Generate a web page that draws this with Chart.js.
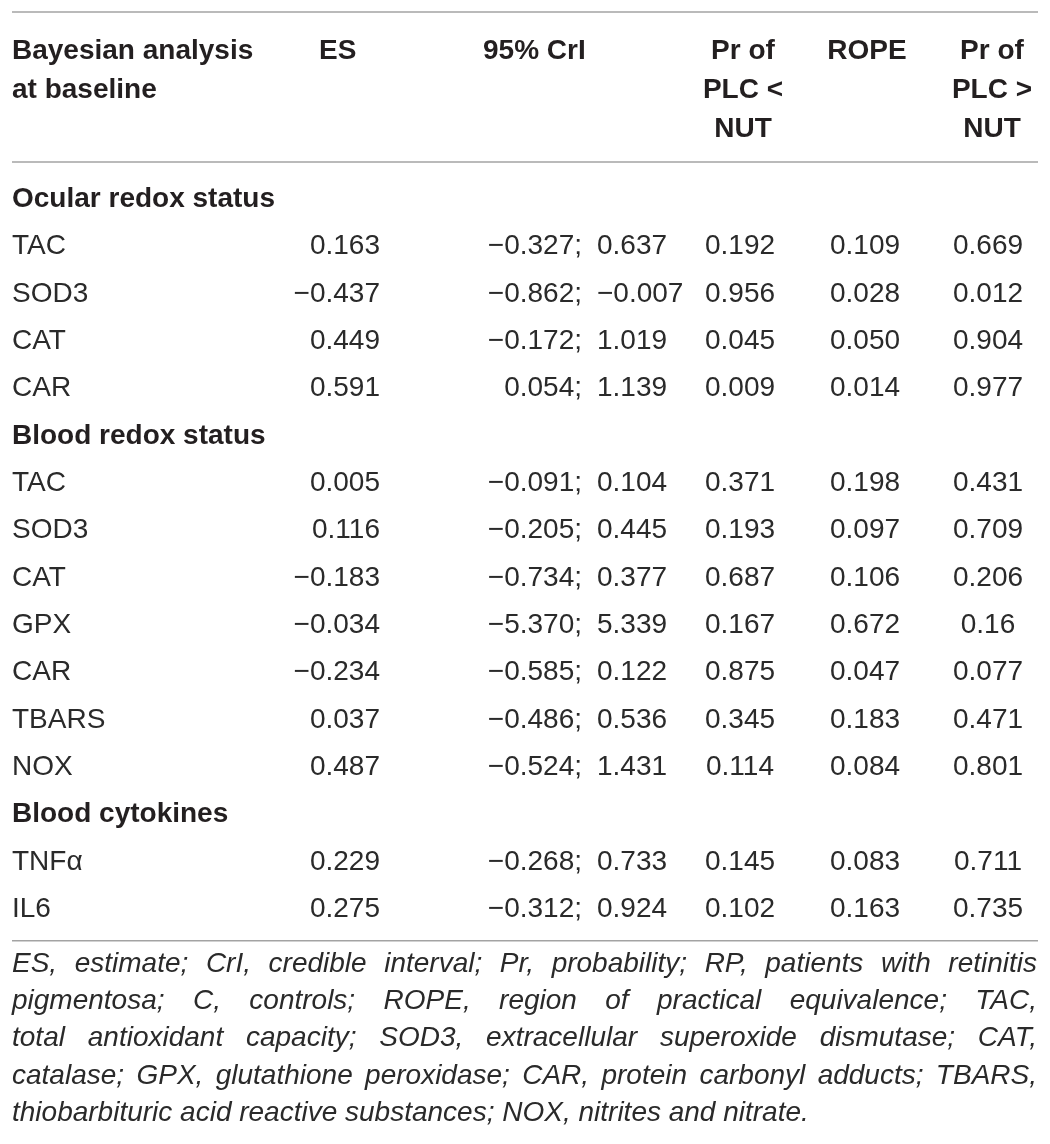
<!DOCTYPE html>
<html>
<head>
<meta charset="utf-8">
<script src="https://cdn.jsdelivr.net/npm/chart.js@4.4.1/dist/chart.umd.min.js"></script>
<style>
  html, body { margin: 0; padding: 0; background: #fff; }
  #wrap { position: relative; width: 1050px; height: 1144px; }
</style>
</head>
<body>
<div id="wrap"><canvas id="table"></canvas></div>
<script>
// table rows (section headings are the rows with no values)
const rowLabels = ['Ocular redox status', 'TAC', 'SOD3', 'CAT', 'CAR',
  'Blood redox status', 'TAC', 'SOD3', 'CAT', 'GPX', 'CAR', 'TBARS', 'NOX',
  'Blood cytokines', 'TNFα', 'IL6'];
const sectionRows = [0, 5, 13];

const esValues   = ['', '0.163', '-0.437', '0.449', '0.591', '', '0.005', '0.116', '-0.183', '-0.034', '-0.234', '0.037', '0.487', '', '0.229', '0.275'];
const criLow     = ['', '-0.327', '-0.862', '-0.172', '0.054', '', '-0.091', '-0.205', '-0.734', '-5.370', '-0.585', '-0.486', '-0.524', '', '-0.268', '-0.312'];
const criHigh    = ['', '0.637', '-0.007', '1.019', '1.139', '', '0.104', '0.445', '0.377', '5.339', '0.122', '0.536', '1.431', '', '0.733', '0.924'];
const prLess     = ['', '0.192', '0.956', '0.045', '0.009', '', '0.371', '0.193', '0.687', '0.167', '0.875', '0.345', '0.114', '', '0.145', '0.102'];
const ropeValues = ['', '0.109', '0.028', '0.050', '0.014', '', '0.198', '0.097', '0.106', '0.672', '0.047', '0.183', '0.084', '', '0.083', '0.163'];
const prMore     = ['', '0.669', '0.012', '0.904', '0.977', '', '0.431', '0.709', '0.206', '0.16', '0.077', '0.471', '0.801', '', '0.711', '0.735'];

const headerLines = [
  ['Bayesian analysis', 'at baseline'],
  ['ES'],
  ['95% CrI'],
  ['Pr of', 'PLC <', 'NUT'],
  ['ROPE'],
  ['Pr of', 'PLC >', 'NUT']
];

const footnoteLines = [
  'ES, estimate; CrI, credible interval; Pr, probability; RP, patients with retinitis',
  'pigmentosa; C, controls; ROPE, region of practical equivalence; TAC,',
  'total antioxidant capacity; SOD3, extracellular superoxide dismutase; CAT,',
  'catalase; GPX, glutathione peroxidase; CAR, protein carbonyl adducts; TBARS,',
  'thiobarbituric acid reactive substances; NOX, nitrites and nitrate.'
];

const FONT = '"Liberation Sans", Arial, Helvetica, sans-serif';
const INK = '#231f20';
const RULE = '#a3a3a3';

// where each column sits (x in scale units = px) and how text is anchored
const columns = [
  { id: 'label', values: rowLabels, x: 12, align: 'left' },
  { id: 'es', values: esValues, x: 380, align: 'right' },
  { id: 'criLow', values: criLow, x: 582, align: 'right', suffix: ';' },
  { id: 'criHigh', values: criHigh, x: 597, align: 'left' },
  { id: 'prLess', values: prLess, x: 740, align: 'center' },
  { id: 'rope', values: ropeValues, x: 865, align: 'center' },
  { id: 'prMore', values: prMore, x: 988, align: 'center' }
];
const headerCols = [
  { x: 12, align: 'left' }, { x: 319, align: 'left' }, { x: 483, align: 'left' },
  { x: 743, align: 'center' }, { x: 867, align: 'center' }, { x: 992, align: 'center' }
];

const fmt = s => s.replace('-', '\u2212');

const datasets = columns.map(col => ({
  label: col.id,
  align: col.align,
  suffix: col.suffix || '',
  data: col.values
    .map((v, i) => ({ x: col.x, y: i, t: v }))
    .filter(p => p.t !== ''),
  pointRadius: 0,
  pointHoverRadius: 0
}));

function justifyLine(ctx, text, x0, x1, y) {
  const words = text.split(' ');
  const widths = words.map(w => ctx.measureText(w).width);
  const total = widths.reduce((a, b) => a + b, 0);
  const gap = (x1 - x0 - total) / (words.length - 1);
  let x = x0;
  words.forEach((w, i) => {
    ctx.fillText(w, x, y);
    x += widths[i] + gap;
  });
}

const tablePlugin = {
  id: 'tableText',
  afterDraw(chart) {
    const ctx = chart.ctx;
    const xs = chart.scales.x;
    const ys = chart.scales.y;
    ctx.save();
    ctx.textBaseline = 'alphabetic';

    // rules
    ctx.strokeStyle = RULE;
    ctx.lineWidth = 1.5;
    const ruleY = [12, 162, ys.getPixelForValue(15.5) + 10];
    ruleY.forEach(y => {
      ctx.beginPath();
      ctx.moveTo(xs.getPixelForValue(12), y);
      ctx.lineTo(xs.getPixelForValue(1038), y);
      ctx.stroke();
    });

    // header
    ctx.fillStyle = INK;
    ctx.font = 'bold 28px ' + FONT;
    headerLines.forEach((lines, c) => {
      ctx.textAlign = headerCols[c].align;
      lines.forEach((txt, k) => {
        ctx.fillText(txt, xs.getPixelForValue(headerCols[c].x), 59 + k * 39);
      });
    });

    // body cells
    chart.data.datasets.forEach((ds, di) => {
      const meta = chart.getDatasetMeta(di);
      ctx.textAlign = ds.align;
      meta.data.forEach((el, j) => {
        const p = ds.data[j];
        const bold = ds.label === 'label' && sectionRows.includes(p.y);
        ctx.font = (bold ? 'bold ' : '') + '28px ' + FONT;
        ctx.fillStyle = bold ? INK : '#2a2a2a';
        const txt = ds.label === 'label' ? p.t : fmt(p.t) + ds.suffix;
        ctx.fillText(txt, el.x, el.y + 10);
      });
    });

    // footnote
    ctx.font = 'italic 28px ' + FONT;
    ctx.fillStyle = '#2a2a2a';
    ctx.textAlign = 'left';
    const x0 = xs.getPixelForValue(12);
    const x1 = xs.getPixelForValue(1037);
    footnoteLines.forEach((line, k) => {
      const y = 972 + k * 37.2;
      if (k < footnoteLines.length - 1) justifyLine(ctx, line, x0, x1, y);
      else ctx.fillText(line, x0, y);
    });
    ctx.restore();
  }
};

new Chart(document.getElementById('table').getContext('2d'), {
  type: 'scatter',
  data: { datasets: datasets },
  options: {
    responsive: true,
    maintainAspectRatio: false,
    animation: false,
    events: [],
    layout: { padding: { top: 173.33, bottom: 213.33, left: 0, right: 0 } },
    scales: {
      x: { type: 'linear', min: 0, max: 1050, display: false },
      y: { type: 'linear', min: -0.5, max: 15.5, reverse: true, display: false }
    },
    plugins: {
      legend: { display: false },
      tooltip: { enabled: false }
    }
  },
  plugins: [tablePlugin]
});
</script>
</body>
</html>
